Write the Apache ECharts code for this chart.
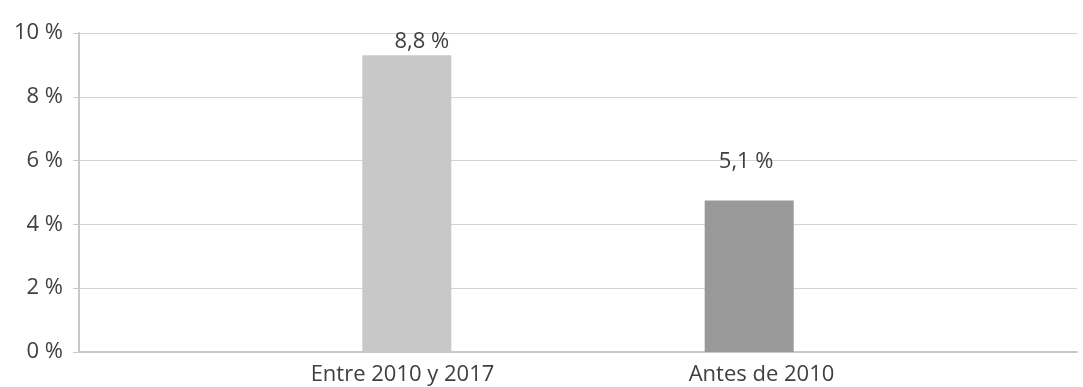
<!DOCTYPE html>
<html>
<head>
<meta charset="utf-8">
<script src="https://cdn.jsdelivr.net/npm/echarts@6/dist/echarts.min.js"></script>
<style>
html,body{margin:0;padding:0;background:#fff;}
#chart{width:1083px;height:387px;}
</style>
</head>
<body>
<div id="chart"></div>
<script>
const categories = ['Entre 2010 y 2017', 'Antes de 2010'];
const barValues = [9.3, 4.75];          // bar heights as drawn in the picture
const barLabels = ['8,8 %', '5,1 %'];   // printed value labels
const yTicks = [0, 2, 4, 6, 8, 10];
const colors = ['#c8c8c8', '#999999'];

const FONT = '"Open Sans", sans-serif';
const FS = 22;
const TXT = '#404040';

const chart = echarts.init(document.getElementById('chart'), null, {renderer: 'canvas'});

const seriesEntre = categories.map((c, i) => i === 0 ? barValues[i] : '-');
const seriesAntes = categories.map((c, i) => i === 1 ? barValues[i] : '-');

chart.setOption({
  animation: false,
  backgroundColor: '#fff',
  grid: {left: 79, right: 6, top: 33, bottom: 35, containLabel: false},
  xAxis: {
    type: 'category',
    data: categories,
    axisLine: {show: true, lineStyle: {color: '#c8c8c8', width: 2}},
    axisTick: {show: false},
    axisLabel: {
      margin: 12,
      fontFamily: FONT, fontSize: FS, color: TXT,
      formatter: (v, i) => i === 0 ? '{a|' + v + '}' : '{b|' + v + '}',
      rich: {
        a: {fontFamily: FONT, fontSize: FS, color: TXT, padding: [0, 0, 0, 148]},
        b: {fontFamily: FONT, fontSize: FS, color: TXT, padding: [0, 132, 0, 0]}
      }
    }
  },
  yAxis: {
    type: 'value',
    min: yTicks[0], max: yTicks[yTicks.length - 1], interval: yTicks[1] - yTicks[0],
    axisLine: {show: true, lineStyle: {color: '#c8c8c8', width: 2}},
    axisTick: {show: true, length: 6, lineStyle: {color: '#c8c8c8', width: 1}},
    splitLine: {show: true, lineStyle: {color: '#d4d4d4', width: 1}},
    axisLabel: {
      margin: 16, fontFamily: FONT, fontSize: FS, color: TXT,
      padding: [0, 0, 8, 0],
      formatter: v => v + ' %'
    }
  },
  series: [
    {
      name: categories[1], type: 'bar', data: seriesAntes,
      barWidth: 89, barGap: '76%',
      itemStyle: {color: colors[1]},
      label: {show: true, position: 'top', distance: 28, offset: [-3, 0], formatter: () => barLabels[1],
              fontFamily: FONT, fontSize: FS, color: TXT}
    },
    {
      name: categories[0], type: 'bar', data: seriesEntre,
      barWidth: 89, barGap: '76%',
      itemStyle: {color: colors[0]},
      label: {show: true, position: 'top', distance: 3, offset: [15, 0], formatter: () => barLabels[0],
              fontFamily: FONT, fontSize: FS, color: TXT}
    }
  ]
});
</script>
</body>
</html>
